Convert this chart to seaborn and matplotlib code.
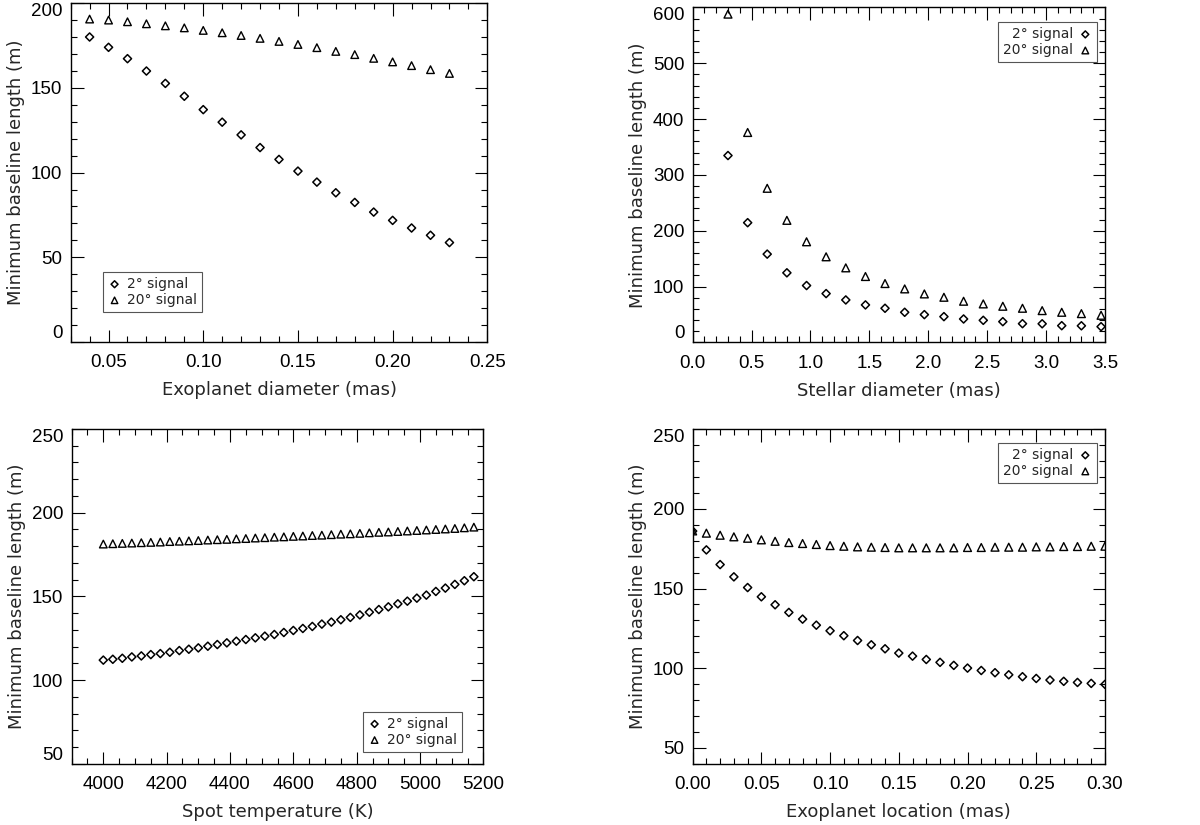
import numpy as np
import pandas as pd
import matplotlib
matplotlib.use("Agg")
import matplotlib.pyplot as plt
import seaborn as sns
from matplotlib.ticker import MultipleLocator, FuncFormatter

# ---------------- data ----------------
# Panel A: exoplanet diameter
exo_diam = [0.04, 0.05, 0.06, 0.07, 0.08, 0.09, 0.10, 0.11, 0.12, 0.13,
            0.14, 0.15, 0.16, 0.17, 0.18, 0.19, 0.20, 0.21, 0.22, 0.23]
exo_diam_2deg = [180.1, 174.0, 167.3, 160.0, 152.7, 145.1, 137.2, 129.8, 122.3, 114.8,
                 107.8, 100.9, 94.4, 88.1, 82.4, 76.7, 71.8, 67.3, 63.0, 58.7]
exo_diam_20deg = [190.7, 190.1, 189.1, 187.9, 186.7, 185.5, 184.0, 182.6, 181.0, 179.3,
                  177.5, 175.7, 173.8, 171.6, 169.7, 167.5, 165.4, 163.2, 160.8, 158.6]

# Panel B: stellar diameter
star_diam = [0.300, 0.467, 0.633, 0.800, 0.967, 1.133, 1.300, 1.467, 1.633, 1.800,
             1.967, 2.133, 2.300, 2.467, 2.633, 2.800, 2.967, 3.133, 3.300, 3.467]
star_diam_2deg = [334.7, 214.4, 158.1, 124.6, 101.8, 87.4, 76.0, 67.1, 61.1, 53.9,
                  49.7, 46.1, 41.9, 39.5, 37.1, 33.5, 33.3, 29.9, 29.7, 28.1]
star_diam_20deg = [588.0, 376.0, 276.0, 218.6, 180.2, 153.3, 133.5, 118.0, 105.4, 95.8,
                   86.8, 80.8, 73.7, 68.9, 64.7, 61.1, 56.9, 53.9, 51.5, 48.5]

# Panel C: spot temperature
spot_temp = [4000, 4030, 4060, 4090, 4120, 4150, 4180, 4210, 4240, 4270,
             4300, 4330, 4360, 4390, 4420, 4450, 4480, 4510, 4540, 4570,
             4600, 4630, 4660, 4690, 4720, 4750, 4780, 4810, 4840, 4870,
             4900, 4930, 4960, 4990, 5020, 5050, 5080, 5110, 5140, 5170]
spot_temp_2deg = [112.0, 112.5, 113.1, 113.9, 114.5, 115.3, 115.9, 116.7, 117.7, 118.5,
                  119.3, 120.3, 121.3, 122.3, 123.3, 124.3, 125.3, 126.3, 127.3, 128.5,
                  129.7, 130.9, 132.1, 133.5, 134.7, 136.1, 137.5, 139.0, 140.6, 142.2,
                  143.8, 145.6, 147.2, 149.0, 150.8, 153.0, 155.0, 157.2, 159.4, 161.8]
spot_temp_20deg = [181.3, 181.5, 181.7, 181.9, 182.1, 182.3, 182.5, 182.8, 183.0, 183.2,
                   183.4, 183.7, 183.9, 184.1, 184.4, 184.6, 184.9, 185.1, 185.4, 185.6,
                   185.9, 186.1, 186.4, 186.6, 186.9, 187.2, 187.4, 187.7, 188.0, 188.3,
                   188.5, 188.8, 189.1, 189.4, 189.7, 190.0, 190.3, 190.6, 191.0, 191.4]

# Panel D: exoplanet location
exo_loc = [0.00, 0.01, 0.02, 0.03, 0.04, 0.05, 0.06, 0.07, 0.08, 0.09,
           0.10, 0.11, 0.12, 0.13, 0.14, 0.15, 0.16, 0.17, 0.18, 0.19,
           0.20, 0.21, 0.22, 0.23, 0.24, 0.25, 0.26, 0.27, 0.28, 0.29, 0.30]
exo_loc_2deg = [186.0, 174.2, 165.0, 157.3, 150.6, 144.8, 139.8, 135.0, 130.8, 127.0,
                123.5, 120.4, 117.4, 114.7, 112.2, 109.5, 107.6, 105.5, 103.7, 101.8,
                100.1, 98.6, 97.2, 95.9, 94.7, 93.6, 92.6, 91.8, 91.1, 90.5, 89.9]
exo_loc_20deg = [186.1, 184.7, 183.4, 182.4, 181.5, 180.5, 179.6, 178.8, 178.2, 177.6,
                 176.9, 176.5, 176.1, 175.9, 175.7, 175.5, 175.5, 175.5, 175.5, 175.5,
                 175.7, 175.7, 175.9, 175.9, 175.9, 176.1, 176.1, 176.3, 176.3, 176.5, 176.5]

label_2 = "2° signal"
label_20 = "20° signal"
ylabel = "Minimum baseline length (m)"

# ---------------- style ----------------
sns.set_theme(style="ticks")
plt.rcParams['font.family'] = ['DejaVu Sans']
plt.rcParams['axes.linewidth'] = 1.0
plt.rcParams['axes.edgecolor'] = 'black'

fig = plt.figure(figsize=(12, 8.25), dpi=100)

panels = [
    dict(rect=[0.0589, 0.5855, 0.3472, 0.4105], x=exo_diam, y2=exo_diam_2deg, y20=exo_diam_20deg,
         xlabel="Exoplanet diameter (mas)", xlim=(0.03, 0.25), ylim=(0, 200),
         xmaj=0.05, xmin=0.01, ymaj=50, ymin=10, xfmt="{:.2f}", yfmt="{:.0f}",
         ms_d=17, ms_t=30, shift_bottom=True,
         leg=dict(loc="lower left", bbox_to_anchor=(0.077, 0.089), markerfirst=True)),
    dict(rect=[0.5772, 0.585, 0.3436, 0.406], x=star_diam, y2=star_diam_2deg, y20=star_diam_20deg,
         xlabel="Stellar diameter (mas)", xlim=(0.0, 3.5), ylim=(0, 600),
         xmaj=0.5, xmin=0.1, ymaj=100, ymin=20, xfmt="{:.1f}", yfmt="{:.0f}",
         ms_d=17, ms_t=32, shift_bottom=True,
         leg=dict(loc="upper right", bbox_to_anchor=(0.981, 0.956), markerfirst=False)),
    dict(rect=[0.0597, 0.074, 0.3431, 0.406], x=spot_temp, y2=spot_temp_2deg, y20=spot_temp_20deg,
         xlabel="Spot temperature (K)", xlim=(3900, 5200), ylim=(50, 250),
         xmaj=200, xmin=50, ymaj=50, ymin=10, xfmt="{:.0f}", yfmt="{:.0f}",
         ms_d=17, ms_t=30, shift_bottom=True,
         leg=dict(loc="lower right", bbox_to_anchor=(0.948, 0.037), markerfirst=True)),
    dict(rect=[0.5772, 0.074, 0.3436, 0.406], x=exo_loc, y2=exo_loc_2deg, y20=exo_loc_20deg,
         xlabel="Exoplanet location (mas)", xlim=(0.0, 0.30), ylim=(40, 250),
         xmaj=0.05, xmin=0.01, ymaj=50, ymin=10, xfmt="{:.2f}", yfmt="{:.0f}",
         ms_d=17, ms_t=32, shift_bottom=False,
         leg=dict(loc="upper right", bbox_to_anchor=(0.981, 0.958), markerfirst=False)),
]

tick_font = ['Liberation Sans', 'DejaVu Sans']

for p in panels:
    ax = fig.add_axes(p["rect"])
    df = pd.DataFrame({"x": p["x"], "y2": p["y2"], "y20": p["y20"]})
    sns.scatterplot(data=df, x="x", y="y2", ax=ax, marker="D", s=p["ms_d"],
                    facecolors="none", edgecolor="black", linewidth=1.1, label=label_2)
    sns.scatterplot(data=df, x="x", y="y20", ax=ax, marker="^", s=p["ms_t"],
                    facecolors="none", edgecolor="black", linewidth=1.0, label=label_20)
    ax.set_xlim(*p["xlim"])
    ax.set_ylim(*p["ylim"])
    ax.xaxis.set_major_locator(MultipleLocator(p["xmaj"]))
    ax.xaxis.set_minor_locator(MultipleLocator(p["xmin"]))
    ax.yaxis.set_minor_locator(MultipleLocator(p["ymin"]))
    xf, yf = p["xfmt"], p["yfmt"]
    ax.xaxis.set_major_formatter(FuncFormatter(lambda v, pos, f=xf: f.format(v)))

    # y ticks fixed so that the end labels can be nudged inward (IDL style)
    y0, y1 = p["ylim"]
    start = np.ceil(y0 / p["ymaj"]) * p["ymaj"]
    yt = np.arange(start, y1 + 1e-9, p["ymaj"])
    ax.set_yticks(yt)
    ax.set_yticklabels([yf.format(v) for v in yt])

    ax.tick_params(which="both", direction="in", top=True, right=True, colors="black")
    ax.tick_params(which="major", length=9, width=0.8, labelsize=13.5)
    ax.tick_params(axis="x", which="major", pad=9)
    ax.tick_params(axis="y", which="major", pad=6)
    ax.tick_params(which="minor", length=4.5, width=0.8)
    for t in ax.get_xticklabels() + ax.get_yticklabels():
        t.set_family(tick_font)
    ylabs = ax.get_yticklabels()
    if abs(yt[-1] - y1) < 1e-9:
        ylabs[-1].set_va("top")
    if p["shift_bottom"] and abs(yt[0] - y0) < 1e-9:
        ylabs[0].set_va("bottom")

    ax.set_xlabel(p["xlabel"], fontsize=13, labelpad=7)
    ax.set_ylabel(ylabel, fontsize=13, labelpad=4)
    for sp in ax.spines.values():
        sp.set_visible(True)
        sp.set_color("black")
    lg = p["leg"]
    leg = ax.legend(loc=lg["loc"], bbox_to_anchor=lg["bbox_to_anchor"], markerfirst=lg["markerfirst"],
                    fontsize=10, frameon=True, fancybox=False, framealpha=1,
                    edgecolor="#555555", handletextpad=0.4, handlelength=1.0,
                    borderpad=0.35, labelspacing=0.15, markerscale=0.85, borderaxespad=0)
    leg.get_frame().set_linewidth(0.8)
    if not lg["markerfirst"]:
        for t in leg.get_texts():
            t.set_ha("right")

fig.savefig("out.png", dpi=100)
